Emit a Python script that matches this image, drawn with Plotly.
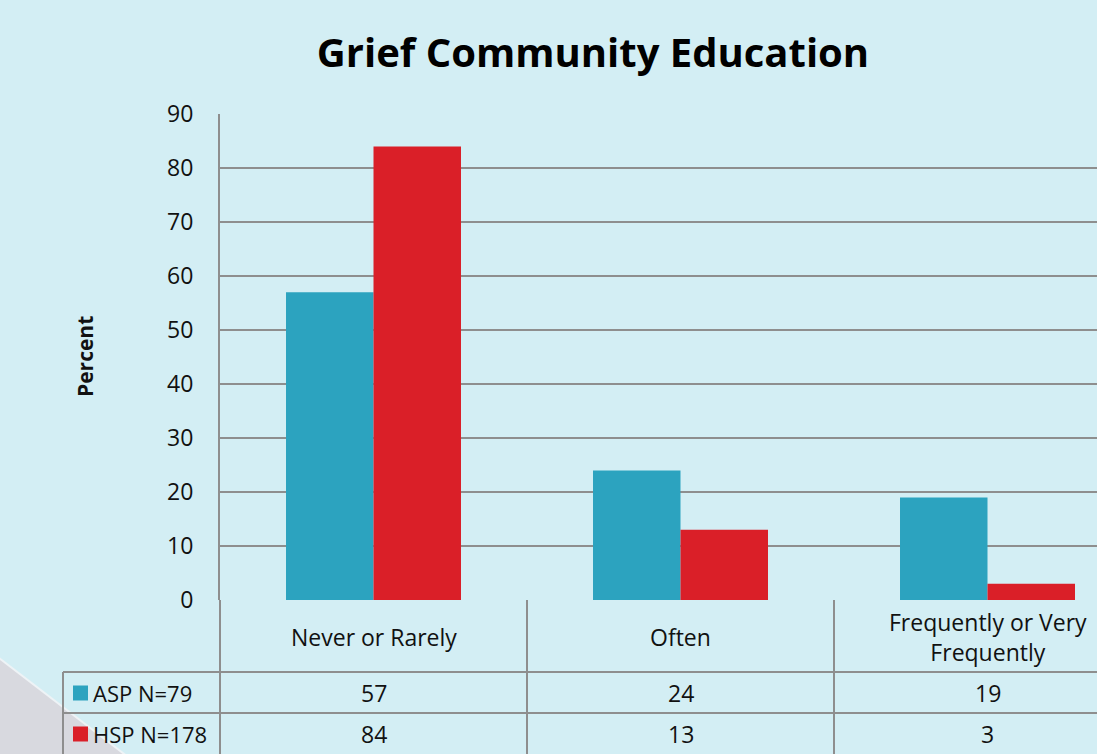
import plotly.graph_objects as go

categories = ["Never or Rarely", "Often", "Frequently or Very Frequently"]
category_labels = ["Never or Rarely", "Often", "Frequently or Very<br>Frequently"]
asp_values = [57, 24, 19]
hsp_values = [84, 13, 3]
series_names = ["ASP N=79", "HSP N=178"]
colors = ["#2CA3BF", "#DA1F28"]
y_ticks = [0, 10, 20, 30, 40, 50, 60, 70, 80, 90]

W, H = 1097, 754
L, R, T, B = 220, 0, 114, 154
PW, PH = W - L - R, H - T - B

def px(xp):
    return (xp - L) / PW

def py(yp):
    return (H - B - yp) / PH

FONT = "Open Sans"
BG = "#D3EEF4"
GRID = "#8E8E8E"
TXT = "#111111"

fig = go.Figure()
for name, vals, col in zip(series_names, [asp_values, hsp_values], colors):
    fig.add_trace(go.Bar(x=list(range(len(categories))), y=vals, name=name,
                         marker=dict(color=col, line=dict(width=0)),
                         showlegend=False, hoverinfo="skip"))

shapes = []
# background triangle
shapes.append(dict(type="path", xref="paper", yref="paper", layer="below",
                   path=f"M {px(-5)} {py(655)} L {px(132)} {py(760)} L {px(-5)} {py(760)} Z",
                   fillcolor="#D8D9DF", line=dict(width=0)))
shapes.append(dict(type="line", xref="paper", yref="paper", layer="below",
                   x0=px(-5), y0=py(655), x1=px(132), y1=py(760),
                   line=dict(color="#EEF3F6", width=2)))
# table lines
line_style = dict(color=GRID, width=2)
shapes.append(dict(type="line", xref="paper", yref="paper", x0=0, x1=0, y0=0, y1=py(760), line=line_style))
for b in [0.5, 1.5]:
    shapes.append(dict(type="line", xref="x", yref="paper", x0=b, x1=b, y0=0, y1=py(760), line=line_style))
for yp in [672, 713]:
    shapes.append(dict(type="line", xref="paper", yref="paper", x0=px(63), x1=1.0, y0=py(yp), y1=py(yp), line=line_style))
shapes.append(dict(type="line", xref="paper", yref="paper", x0=px(63), x1=px(63), y0=py(672), y1=py(760), line=line_style))

annotations = []
# category labels
for i, lab in enumerate(category_labels):
    annotations.append(dict(x=i, y=py(637), xref="x", yref="paper", text=lab, showarrow=False,
                            font=dict(family=FONT, size=23, color=TXT), yanchor="middle"))
# table values
for row_y, vals in [(693, asp_values), (734, hsp_values)]:
    for i, v in enumerate(vals):
        annotations.append(dict(x=i, y=py(row_y), xref="x", yref="paper", text=str(v), showarrow=False,
                                font=dict(family=FONT, size=23, color=TXT), yanchor="middle"))
# legend cells
for row_y, name, col in [(693, series_names[0], colors[0]), (734, series_names[1], colors[1])]:
    shapes.append(dict(type="rect", xref="paper", yref="paper", x0=px(73), x1=px(88),
                       y0=py(row_y - 7.5), y1=py(row_y + 7.5), fillcolor=col, line=dict(width=0)))
    annotations.append(dict(x=px(91), y=py(row_y), xref="paper", yref="paper", text=name, showarrow=False,
                            xanchor="left", yanchor="middle", font=dict(family=FONT, size=22, color=TXT)))
# y-axis title
annotations.append(dict(x=px(69), y=py(357), xref="paper", yref="paper", text="<b>Percent</b>", showarrow=False,
                        textangle=-90, font=dict(family=FONT, size=21, color=TXT)))

fig.update_layout(
    width=W, height=H,
    margin=dict(l=L, r=R, t=T, b=B),
    paper_bgcolor=BG, plot_bgcolor=BG,
    title=dict(text="<b>Grief Community Education</b>", x=593 / W, xanchor="center",
               y=1 - 53 / H, yanchor="middle", font=dict(family=FONT, size=40, color="#000")),
    barmode="group", bargap=0.43, bargroupgap=0,
    shapes=shapes, annotations=annotations,
    xaxis=dict(range=[-0.5, -0.5 + 3 * PW / 921], showticklabels=False, showgrid=False,
               zeroline=False, showline=False, fixedrange=True),
    yaxis=dict(range=[0, 90], tickvals=y_ticks, showgrid=True, gridcolor=GRID, gridwidth=2,
               zeroline=False, showline=True, linecolor=GRID, linewidth=2, fixedrange=True,
               tickfont=dict(family=FONT, size=23, color=TXT), ticklabelstandoff=20),
)

fig.write_html("out.html", config={"displayModeBar": False},
               post_script="document.body.style.margin='0';document.body.style.background='" + BG + "';")
